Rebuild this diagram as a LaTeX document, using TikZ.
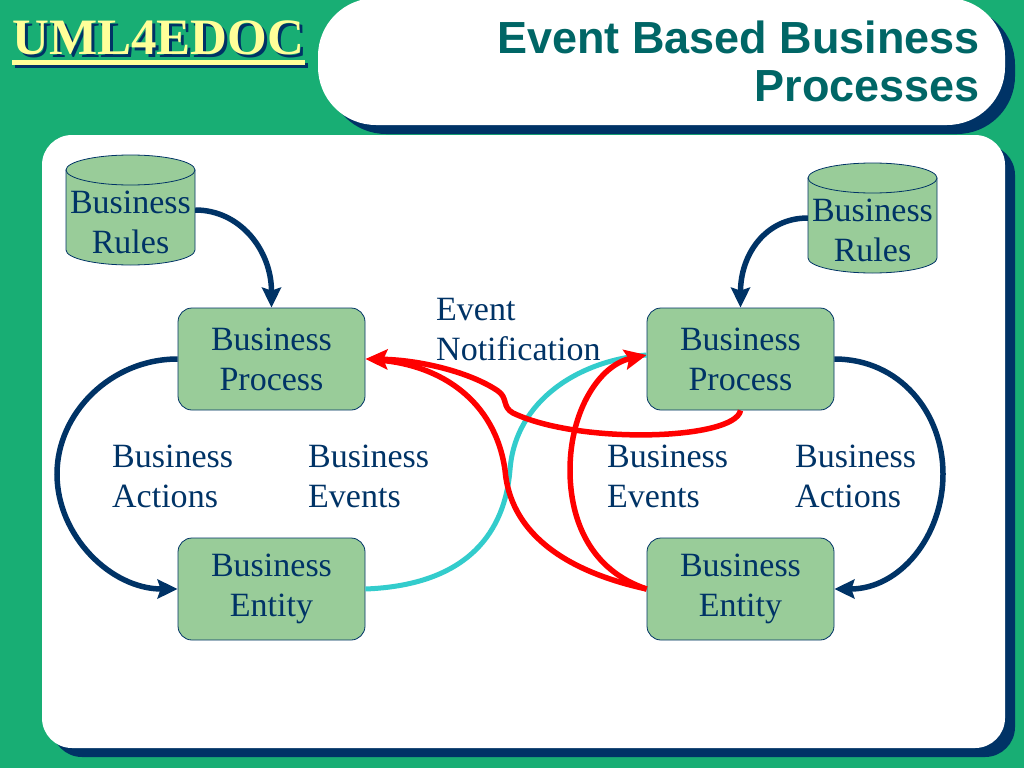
\documentclass[tikz,border=0pt]{standalone}
\usepackage{fontspec}
\setmainfont{Liberation Serif}
\newfontfamily\titlefont{Liberation Sans}
\usetikzlibrary{arrows.meta}
\definecolor{bggreen}{RGB}{24,174,116}
\definecolor{navy}{RGB}{0,51,102}
\definecolor{tealtitle}{RGB}{0,102,102}
\definecolor{boxgreen}{RGB}{153,204,153}
\definecolor{logoyellow}{RGB}{255,255,153}
\definecolor{cyanline}{RGB}{51,204,204}
\definecolor{redline}{RGB}{255,0,0}
\tikzset{
  bodyfont/.style={font=\fontsize{34}{40}\selectfont},
  procbox/.style={bodyfont, draw=navy, line width=0.8pt, fill=boxgreen, rounded corners=14pt,
    minimum width=187pt, minimum height=102pt, text=navy, align=center, inner sep=0pt},
  cyl/.style={draw=navy, line width=0.8pt, fill=boxgreen},
  rulestext/.style={bodyfont, text=navy, align=center, minimum width=129pt, inner sep=0pt},
  lbl/.style={bodyfont, text=navy, align=left, anchor=west, inner sep=0pt},
  navyarrow/.style={draw=navy, line width=5.5pt, -{Stealth[length=20pt, width=19pt, inset=3pt]}},
  redarrow/.style={draw=redline, line width=5.5pt, -{Stealth[length=22pt, width=20pt, inset=4pt]}},
  redplain/.style={draw=redline, line width=5.5pt},
  cyanplain/.style={draw=cyanline, line width=5pt},
  logofont/.style={font=\fontsize{51}{51}\selectfont\bfseries, anchor=base west, inner sep=0pt},
  titlefnt/.style={font=\titlefont\bfseries\fontsize{45}{48}\selectfont, text=tealtitle, anchor=base east, inner sep=0pt}
}
\begin{document}
\begin{tikzpicture}[x=1pt, y=-1pt]
\useasboundingbox (0,0) rectangle (1024,768);
\fill[bggreen] (0,0) rectangle (1024,768);
% title box
\fill[navy, rounded corners=58pt] (328,7) rectangle (1015,134);
\fill[white, rounded corners=58pt] (318,-2) rectangle (1005,125);
% main panel
\fill[navy, rounded corners=30pt] (52,145) rectangle (1015,757);
\fill[white, rounded corners=30pt] (42,135) rectangle (1005,748);
% logo
\fill[navy] (15,63) rectangle (308,68);
\fill[logoyellow] (12,60) rectangle (305,65);
\node[logofont, text=logoyellow] (logo) at (12,55)
  {\rlap{\kern3pt\raisebox{-3pt}{\color{navy}UML4EDOC}}UML4EDOC};
% title
\node[titlefnt] (titleA) at (980,53) {Event Based Business};
\node[titlefnt] (titleB) at (980,101) {Processes};
% cylinders
\filldraw[cyl] (66,170) -- (66,250) arc[start angle=180, end angle=0, x radius=64.5, y radius=15] -- (195,170) -- cycle;
\filldraw[cyl] (130.5,170) ellipse[x radius=64.5, y radius=15];
\filldraw[cyl] (808,178) -- (808,258) arc[start angle=180, end angle=0, x radius=64.5, y radius=15] -- (937,178) -- cycle;
\filldraw[cyl] (872.5,178) ellipse[x radius=64.5, y radius=15];
\node[rulestext] (rulesL) at (130.5,222) {Business\\Rules};
\node[rulestext] (rulesR) at (872.5,230) {Business\\Rules};
% boxes
\node[procbox] (procL) at (271.5,359) {Business\\Process};
\node[procbox] (entL) at (271.5,589) {Business\\Entity};
\node[procbox] (procR) at (740.5,359) {Business\\Process};
\node[procbox] (entR) at (740.5,589) {Business\\Entity};
% labels
\node[lbl] (actL) at (112,476) {Business\\Actions};
\node[lbl] (evL) at (308,476) {Business\\Events};
\node[lbl] (evR) at (607,476) {Business\\Events};
\node[lbl] (actR) at (795,476) {Business\\Actions};
\node[lbl] (notif) at (436,330) {Event\\Notification};
% navy arrows
\draw[navyarrow] ([yshift=12pt]rulesL.east) .. controls (240,210) and (271.5,250) .. (procL.north);
\draw[navyarrow] ([yshift=12pt]rulesR.west) .. controls (765,218) and (740.5,255) .. (procR.north);
\draw[navyarrow] (procL.west) .. controls (111,359) and (57,413) .. (57,474) .. controls (57,536) and (111,589) .. (entL.west);
\draw[navyarrow] (procR.east) .. controls (900,359) and (943,413) .. (943,474) .. controls (943,536) and (900,589) .. (entR.east);
% cyan
\draw[cyanplain] (entL.east) .. controls (470,585) and (505,530) .. (510,470) .. controls (515,400) and (580,360) .. ([yshift=4pt]procR.west);
% red
\draw[redplain, shorten >=14pt] (entR.west) .. controls (560,570) and (510,530) .. (505,470) .. controls (495,400) and (440,365) .. (procL.east);
\draw[redarrow] (procR.south) .. controls (735,440) and (580,445) .. (513,413) .. controls (502,407) and (508,398) .. (498,391) .. controls (470,372) and (420,360) .. (procL.east);
\draw[redarrow] (entR.west) .. controls (590,570) and (570,520) .. (570,470) .. controls (570,410) and (600,365) .. ([yshift=4pt]procR.west);
\end{tikzpicture}
\end{document}
